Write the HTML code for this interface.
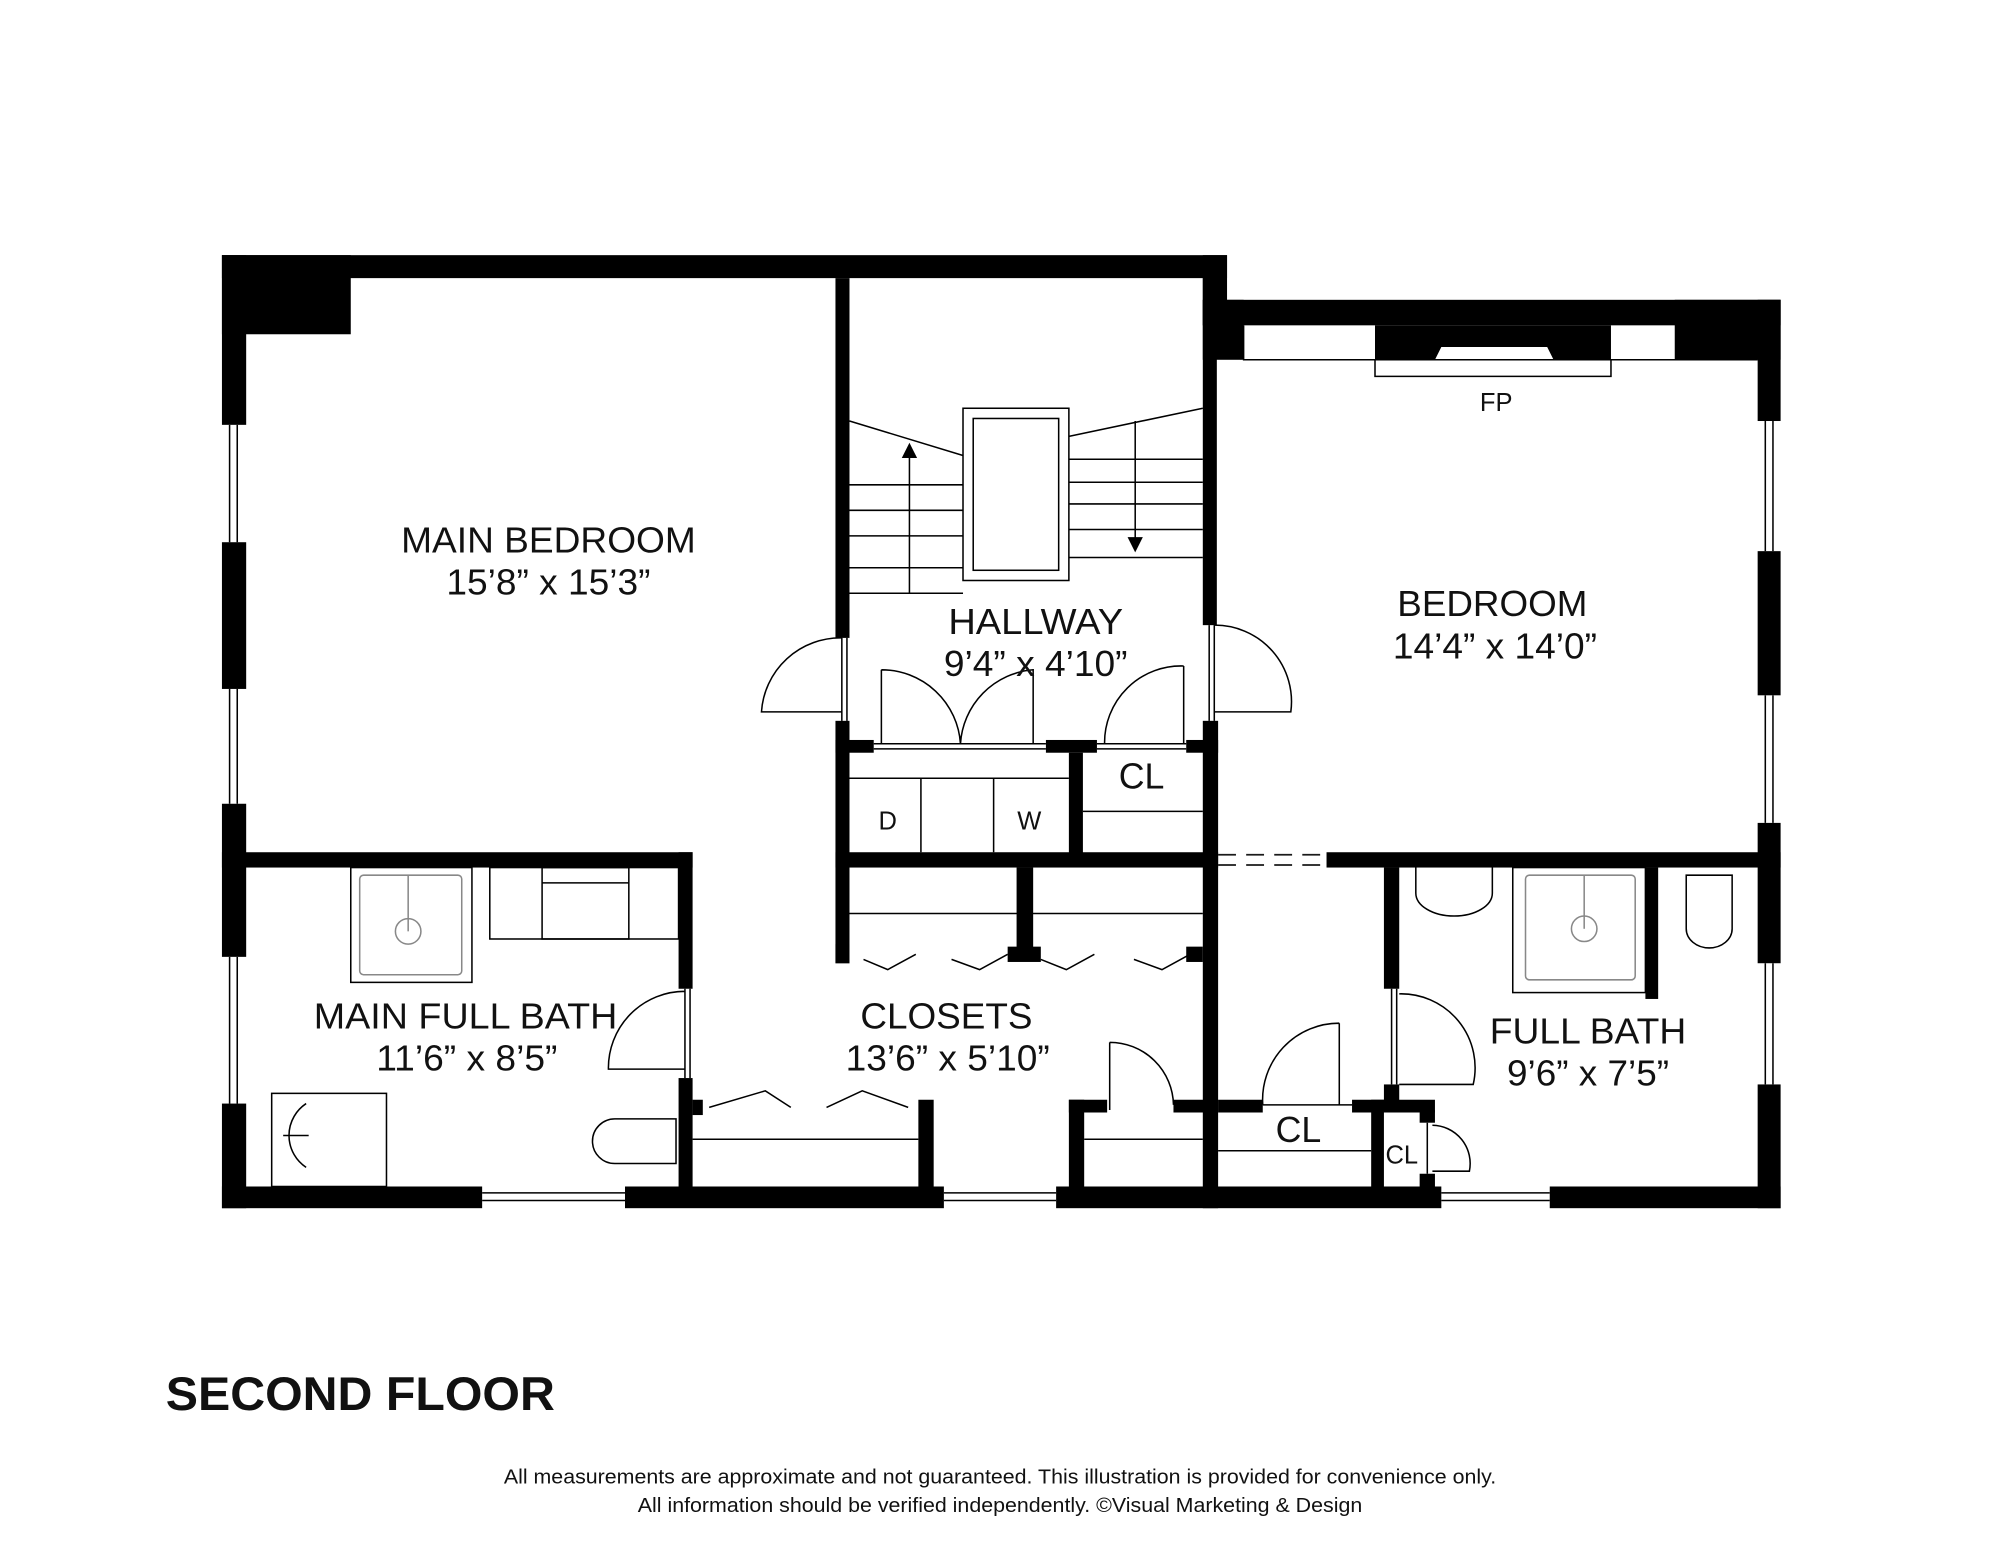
<!DOCTYPE html>
<html><head><meta charset="utf-8"><style>
html,body{margin:0;padding:0;background:#fff;}
svg{display:block;}
text{font-family:"Liberation Sans",Arial,sans-serif;fill:#111;}
</style></head><body>
<svg width="2000" height="1545" viewBox="0 0 1568 1211" preserveAspectRatio="none" xmlns="http://www.w3.org/2000/svg">
<rect width="1568" height="1211" fill="#fff"/>
<g fill="#000">
<rect x="174" y="200" width="788" height="18"/>
<rect x="174" y="200" width="101" height="62"/>
<rect x="174" y="200" width="19" height="133"/>
<rect x="174" y="425" width="19" height="115"/>
<rect x="174" y="630" width="19" height="120"/>
<rect x="174" y="865" width="19" height="82"/>
<rect x="943" y="200" width="19" height="55"/>
<rect x="943" y="235" width="453" height="20"/>
<rect x="943" y="235" width="32" height="47"/>
<rect x="1313" y="235" width="83" height="47"/>
<rect x="1378" y="235" width="18" height="95"/>
<rect x="1378" y="432" width="18" height="113"/>
<rect x="1378" y="645" width="18" height="110"/>
<rect x="1378" y="850" width="18" height="97"/>
<polygon points="1078,255 1263,255 1263,282 1218,282 1213,272 1130,272 1125,282 1078,282"/>
<rect x="174" y="930" width="204" height="17"/>
<rect x="490" y="930" width="250" height="17"/>
<rect x="828" y="930" width="302" height="17"/>
<rect x="1215" y="930" width="181" height="17"/>
<rect x="655" y="218" width="11" height="282"/>
<rect x="655" y="565" width="11" height="190"/>
<rect x="943" y="218" width="11" height="272"/>
<rect x="943" y="565" width="12" height="382"/>
<rect x="655" y="580" width="30" height="10"/>
<rect x="820" y="580" width="40" height="10"/>
<rect x="930" y="580" width="25" height="10"/>
<rect x="838" y="590" width="11" height="80"/>
<rect x="174" y="668" width="369" height="12"/>
<rect x="655" y="668" width="300" height="12"/>
<rect x="1040" y="668" width="356" height="12"/>
<rect x="532" y="668" width="11" height="107"/>
<rect x="532" y="845" width="11" height="85"/>
<rect x="543" y="862" width="8" height="12"/>
<rect x="797" y="680" width="13" height="72"/>
<rect x="655" y="740" width="11" height="15"/>
<rect x="790" y="742" width="26" height="12"/>
<rect x="930" y="742" width="13" height="12"/>
<rect x="720" y="862" width="12" height="68"/>
<rect x="838" y="862" width="12" height="68"/>
<rect x="838" y="862" width="30" height="10"/>
<rect x="920" y="862" width="35" height="10"/>
<rect x="955" y="862" width="35" height="10"/>
<rect x="1060" y="862" width="65" height="10"/>
<rect x="1075" y="862" width="10" height="68"/>
<rect x="1085" y="680" width="12" height="95"/>
<rect x="1085" y="850" width="12" height="20"/>
<rect x="1290" y="680" width="10" height="103"/>
<rect x="1113" y="870" width="12" height="10"/>
<rect x="1113" y="920" width="12" height="10"/>
</g>
<g fill="none" stroke="#000" stroke-width="1.2">
<path d="M180,333V425M186,333V425M180,540V630M186,540V630M180,750V865M186,750V865"/>
<path d="M1384,330V432M1390,330V432M1384,545V645M1390,545V645M1384,755V850M1390,755V850"/>
<path d="M378,935H490M378,941H490M740,935H828M740,941H828M1130,935H1215M1130,941H1215"/>
<path d="M975,255V282H1078M1263,282H1313M975,282H1378M1078,282V295H1263V282"/>
<rect x="755" y="320" width="83" height="135"/>
<rect x="763" y="328" width="67" height="119"/>
<path d="M666,465H755M666,330L755,357M838,342L943,320M838,437H943"/>
<path d="M666,380H755M666,400H755M666,420H755M666,445H755M713,355V465"/>
<path d="M838,360H943M838,378H943M838,395H943M838,415H943M890,330V425"/>
<path d="M660,500V565M664,500V565"/>
<path d="M660,500A62,62 0 0 0 597,558H660"/>
<path d="M948,490V565M952,490V565"/>
<path d="M952,490A60,60 0 0 1 1012,558H952"/>
<path d="M685,583H820M685,587H820M860,583H930M860,587H930"/>
<path d="M691,525V583M691,525A62,62 0 0 1 753,583M753,583A62,62 0 0 1 810,525V583"/>
<path d="M928,522V583M928,522A60,60 0 0 0 866,583"/>
<path d="M666,610H838M722,610V668M779,610V668M849,636H943"/>
<path d="M666,716H943"/>
<path d="M677,752L696,760L718,748M746,752L768,760L790,748M816,752L836,760L858,748M889,752L911,760L933,748"/>
<path d="M556,868L600,855L620,868M648,868L676,855L712,868"/>
<path d="M543,893H720M850,893H943"/>
<path d="M870,817V870M870,817A50,50 0 0 1 920,866"/>
<path d="M537,775V845M541,775V845M537,777A60,60 0 0 0 477,838H537"/>
<path d="M990,866H1060M955,902H1075"/>
<path d="M1050,802V866M1050,802A60,60 0 0 0 990,866"/>
<path d="M1091,775V850M1095,775V850M1097,779A58,58 0 0 1 1155,850H1097"/>
<path d="M1119,880V920M1123,882A30,30 0 0 1 1152,918H1123"/>
<rect x="275" y="680" width="95" height="90"/>
<rect x="384" y="680" width="148" height="56"/>
<rect x="425" y="680" width="68" height="56"/>
<path d="M425,692H493"/>
<rect x="213" y="857" width="90" height="73"/>
<path d="M240,865A30,30 0 0 0 240,915M222,890H242"/>
<path d="M482,877H530V912H482A17,17 0 0 1 482,877Z"/>
<path d="M1110,680V700A30,18 0 0 0 1170,700V680"/>
<rect x="1186" y="680" width="104" height="98"/>
<path d="M1322,686H1358V728A18,15 0 0 1 1322,728Z"/>
</g>
<g fill="none" stroke="#888" stroke-width="1.2">
<rect x="282" y="686" width="80" height="78" rx="3"/>
<circle cx="320" cy="730" r="10"/><path d="M320,686V730"/>
<rect x="1196" y="686" width="86" height="82" rx="3"/>
<circle cx="1242" cy="728" r="10"/><path d="M1242,686V728"/>
</g>
<g stroke="#1a1a1a" stroke-dasharray="14,8" stroke-width="1.4"><path d="M955,670H1040M955,678H1040"/></g>
<polygon points="713,347 707,359 719,359" fill="#000"/>
<polygon points="890,433 884,421 896,421" fill="#000"/>
<g font-size="28" text-anchor="middle" lengthAdjust="spacingAndGlyphs">
<text x="430" y="433" textLength="231" lengthAdjust="spacingAndGlyphs">MAIN BEDROOM</text><text x="430" y="466" textLength="160" lengthAdjust="spacingAndGlyphs">15’8” x 15’3”</text>
<text x="812" y="497" textLength="137" lengthAdjust="spacingAndGlyphs">HALLWAY</text><text x="812" y="530" textLength="144" lengthAdjust="spacingAndGlyphs">9’4” x 4’10”</text>
<text x="1170" y="483" textLength="149" lengthAdjust="spacingAndGlyphs">BEDROOM</text><text x="1172" y="516" textLength="160" lengthAdjust="spacingAndGlyphs">14’4” x 14’0”</text>
<text x="365" y="806" textLength="238" lengthAdjust="spacingAndGlyphs">MAIN FULL BATH</text><text x="366" y="839" textLength="142" lengthAdjust="spacingAndGlyphs">11’6” x 8’5”</text>
<text x="742" y="806" textLength="135" lengthAdjust="spacingAndGlyphs">CLOSETS</text><text x="743" y="839" textLength="160" lengthAdjust="spacingAndGlyphs">13’6” x 5’10”</text>
<text x="1245" y="818" textLength="154" lengthAdjust="spacingAndGlyphs">FULL BATH</text><text x="1245" y="851" textLength="127" lengthAdjust="spacingAndGlyphs">9’6” x 7’5”</text>
<text x="895" y="618">CL</text><text x="1018" y="895">CL</text>
</g>
<g font-size="20" text-anchor="middle">
<text x="1173" y="322">FP</text><text x="696" y="650">D</text><text x="807" y="650">W</text><text x="1099" y="912">CL</text>
</g>
<text x="130" y="1105" font-size="37" font-weight="bold" textLength="305" lengthAdjust="spacingAndGlyphs">SECOND FLOOR</text>
<g font-size="16">
<text x="395" y="1163" textLength="778" lengthAdjust="spacingAndGlyphs">All measurements are approximate and not guaranteed. This illustration is provided for convenience only.</text>
<text x="500" y="1185" textLength="568" lengthAdjust="spacingAndGlyphs">All information should be verified independently. ©Visual Marketing &amp; Design</text>
</g>
</svg>
</body></html>
